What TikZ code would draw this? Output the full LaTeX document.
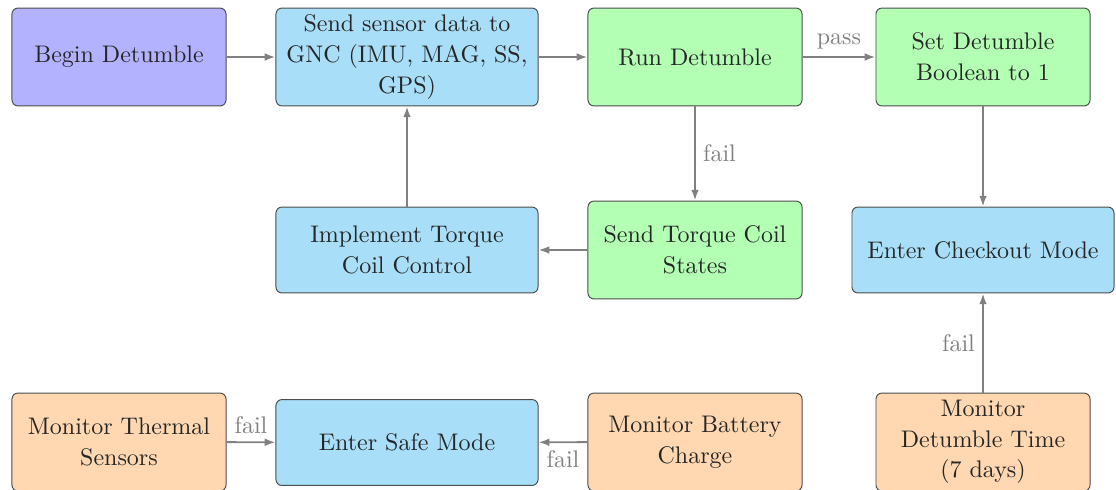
\documentclass[tikz,border=0pt]{standalone}
\usetikzlibrary{arrows.meta}
\definecolor{startfill}{RGB}{178,178,255}
\definecolor{procfill}{RGB}{168,222,248}
\definecolor{okfill}{RGB}{179,255,179}
\definecolor{monfill}{RGB}{255,216,178}
\definecolor{edgegray}{RGB}{128,128,128}
\tikzset{
  box/.style={draw=black!70, line width=0.4pt, rounded corners=2.5pt, align=center,
    inner sep=2pt, text=black!85, font=\fontsize{10}{12.8}\selectfont},
  narrowbox/.style={box, minimum width=89.2pt, minimum height=40.8pt},
  widebox/.style={box, minimum width=109.2pt, minimum height=35.8pt},
  startbox/.style={narrowbox, fill=startfill},
  okbox/.style={narrowbox, fill=okfill},
  monbox/.style={narrowbox, fill=monfill},
  procbox/.style={widebox, fill=procfill},
  flow/.style={draw=edgegray, line width=0.8pt, -{Latex[length=4.5pt,width=3.2pt]}},
  cond/.style={text=edgegray, inner sep=3pt}
}
\begin{document}
\begin{tikzpicture}[x=0.4167pt, y=-0.4167pt]
  \useasboundingbox (0,0) rectangle (1116,490);
  \clip (0,0) rectangle (1116,490);

  % top row
  \node[startbox] (begin) at (119,57) {Begin Detumble};
  \node[procbox, minimum height=40.8pt] (send) at (407,57) {Send sensor data to\\GNC (IMU, MAG, SS,\\GPS)};
  \node[okbox] (run) at (695,57) {Run Detumble};
  \node[okbox] (setb) at (983,57) {Set Detumble\\Boolean to 1};

  % middle row
  \node[procbox] (impl) at (407,250) {Implement Torque\\Coil Control};
  \node[okbox] (coil) at (695,250) {Send Torque Coil\\States};
  \node[procbox] (check) at (983,250) {Enter Checkout Mode};

  % bottom row
  \node[monbox] (therm) at (119,442) {Monitor Thermal\\Sensors};
  \node[procbox] (safe) at (407,442.5) {Enter Safe Mode};
  \node[monbox] (batt) at (695,442) {Monitor Battery\\Charge};
  \node[monbox] (dtime) at (983,442) {Monitor\\Detumble Time\\(7 days)};

  % connectors
  \draw[flow] (begin) -- (send);
  \draw[flow] (send) -- (run);
  \draw[flow] (run) -- node[cond, above] {pass} (setb);
  \draw[flow] (run) -- node[cond, right] {fail} (coil);
  \draw[flow] (coil) -- (impl);
  \draw[flow] (impl) -- (send);
  \draw[flow] (setb) -- (check);
  \draw[flow] (dtime) -- node[cond, left] {fail} (check);
  \draw[flow] (therm) -- node[cond, above] {fail} (safe);
  \draw[flow] (batt) -- node[cond, below] {fail} (safe);
\end{tikzpicture}
\end{document}
